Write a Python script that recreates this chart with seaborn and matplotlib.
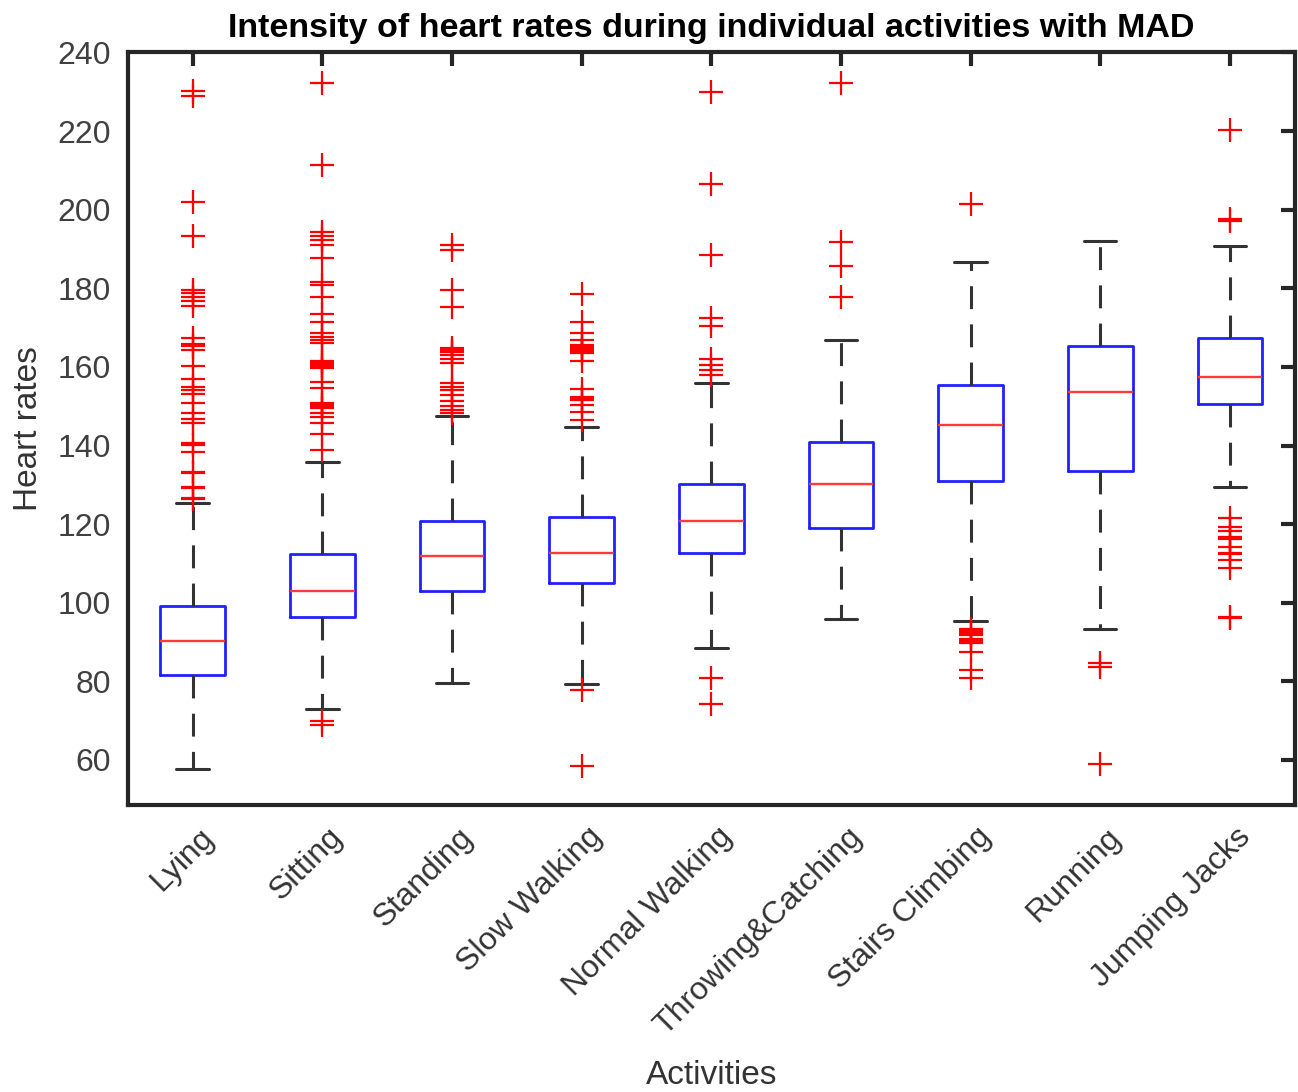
import pandas as pd
import seaborn as sns
import matplotlib.pyplot as plt
from matplotlib.transforms import ScaledTranslation

activities = ['Lying', 'Sitting', 'Standing', 'Slow Walking', 'Normal Walking',
              'Throwing&Catching', 'Stairs Climbing', 'Running', 'Jumping Jacks']

# box statistics (bpm)
q1 = [81.5, 96.3, 102.9, 104.9, 112.7, 118.9, 130.9, 133.5, 150.6]
medians = [90.3, 102.9, 111.8, 112.7, 120.7, 130.2, 145.2, 153.5, 157.4]
q3 = [99.2, 112.4, 120.9, 121.9, 130.2, 141.0, 155.3, 165.2, 167.3]
whisker_low = [57.6, 73.0, 79.7, 79.4, 88.5, 95.8, 95.3, 93.2, 129.5]
whisker_high = [125.4, 135.7, 147.5, 144.6, 156.0, 166.9, 186.8, 191.9, 190.8]

# outliers per activity
out_lying = [230.1, 228.9, 202.0, 193.2, 179.6, 178.8, 177.9, 176.8, 175.4, 167.3, 165.9,
             165.4, 164.3, 160.3, 156.9, 154.8, 154.1, 153.1, 150.7, 148.2, 146.7, 145.7,
             140.6, 140.1, 138.4, 133.3, 132.9, 129.5, 129.1, 126.7, 126.4]
out_sitting = [232.3, 211.3, 194.2, 193.2, 192.4, 191.1, 187.7, 181.6, 180.9, 177.9, 173.5,
               171.3, 168.6, 167.7, 166.9, 166.0, 161.4, 161.0, 160.5, 160.0, 159.7, 156.1,
               154.6, 150.7, 150.3, 150.0, 149.6, 148.2, 147.3, 145.7, 142.9, 138.9, 69.8, 68.8]
out_standing = [191.1, 189.8, 179.6, 175.2, 164.8, 164.3, 163.8, 163.1, 162.0, 161.0, 155.8,
                155.0, 154.1, 152.9, 151.2, 150.1, 149.0, 148.3]
out_slow = [178.5, 171.3, 168.6, 166.9, 165.6, 165.0, 164.5, 164.0, 163.6, 161.4, 154.3,
            152.4, 152.0, 151.6, 150.3, 148.6, 146.5, 77.7, 58.4]
out_normal = [229.9, 206.4, 188.4, 172.4, 170.4, 162.0, 160.5, 159.2, 158.0, 80.9, 74.3]
out_throwing = [232.3, 191.7, 185.6, 177.9]
out_stairs = [201.5, 93.4, 92.9, 92.4, 91.9, 90.7, 90.2, 89.8, 87.5, 83.0, 80.9]
out_running = [84.8, 83.7, 59.0]
out_jumping = [220.2, 197.6, 197.2, 121.5, 119.3, 118.3, 116.6, 116.2, 114.2, 112.7, 112.3,
               111.0, 108.9, 96.4, 96.0]

outliers = [out_lying, out_sitting, out_standing, out_slow, out_normal,
            out_throwing, out_stairs, out_running, out_jumping]

sns.set_theme(style='white')
plt.rcParams['font.family'] = ['Liberation Sans', 'DejaVu Sans']

fig = plt.figure(figsize=(12.98, 10.92), dpi=100)
ax = fig.add_axes([0.0985, 0.263, 0.899, 0.689])

stats = []
for i, name in enumerate(activities):
    stats.append({'label': name, 'q1': q1[i], 'med': medians[i], 'q3': q3[i],
                  'whislo': whisker_low[i], 'whishi': whisker_high[i], 'fliers': []})

ax.bxp(stats, positions=range(len(activities)), widths=0.5, showfliers=False,
       boxprops=dict(color='#2020ff', linewidth=2.0),
       medianprops=dict(color='#ff3a3a', linewidth=1.7),
       whiskerprops=dict(color='#333333', linewidth=2.2, linestyle=(0, (7.5, 5))),
       capprops=dict(color='#333333', linewidth=2.2), capwidths=0.25)

flier_df = pd.DataFrame({
    'Activity': [a for a, vals in zip(activities, outliers) for _ in vals],
    'Heart rate': [v for vals in outliers for v in vals],
})
sns.scatterplot(data=flier_df, x='Activity', y='Heart rate', marker='+', s=300,
                color='red', linewidth=1.6, ax=ax, zorder=3)

ax.set_xlim(-0.5, 8.5)
ax.set_ylim(48.6, 240)
ax.set_yticks(range(60, 241, 20))
ax.set_xticks(range(len(activities)))
ax.set_xticklabels(activities, rotation=45, ha='right', va='center',
                   rotation_mode='anchor')
ax.tick_params(axis='both', direction='in', length=10, width=3, colors='#262626',
               labelsize=23, top=True, right=True)
ax.tick_params(axis='x', labelcolor='#333333', pad=20)
ax.tick_params(axis='y', labelcolor='#404040', pad=12)
shift = ScaledTranslation(0.16, 0, fig.dpi_scale_trans)
for lab in ax.get_xticklabels():
    lab.set_transform(lab.get_transform() + shift)
for spine in ax.spines.values():
    spine.set_color('#262626')
    spine.set_linewidth(3)

ax.set_title('Intensity of heart rates during individual activities with MAD',
             fontsize=24.5, fontweight='bold', color='black', pad=11)
ax.set_xlabel('Activities', fontsize=24, color='#333333', labelpad=14)
ax.set_ylabel('Heart rates', fontsize=24, color='#333333', labelpad=10)

plt.savefig('out.png', dpi=100)
